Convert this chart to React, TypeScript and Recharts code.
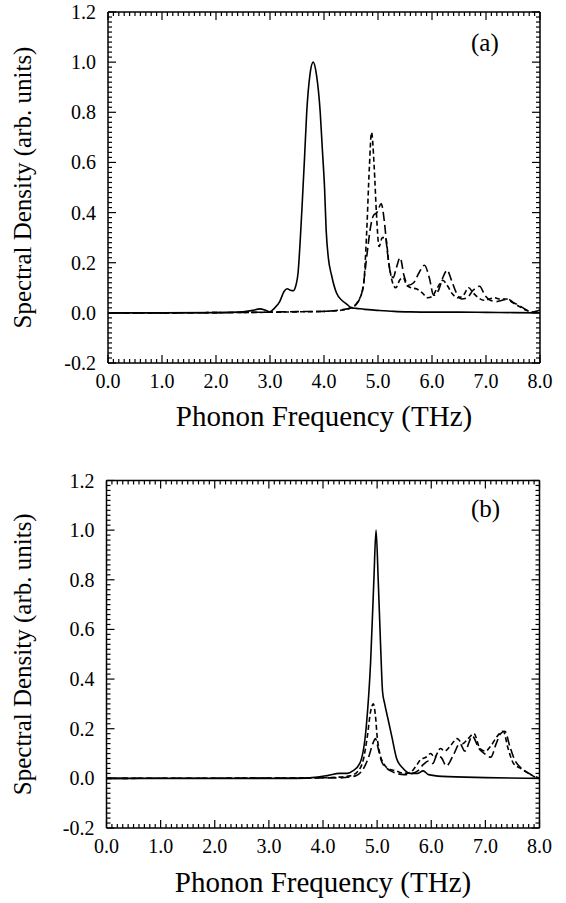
import React from 'react';
import { LineChart, Line, XAxis, YAxis } from 'recharts';

// ---------- tick labels ----------
const xMajorTicks = [0, 1, 2, 3, 4, 5, 6, 7, 8];
const xTickLabels = ['0.0', '1.0', '2.0', '3.0', '4.0', '5.0', '6.0', '7.0', '8.0'];
const yMajorTicks = [-0.2, 0, 0.2, 0.4, 0.6, 0.8, 1.0, 1.2];
const yTickLabels = ['-0.2', '0.0', '0.2', '0.4', '0.6', '0.8', '1.0', '1.2'];
const xMinorStep = 0.1;
const yMinorStep = 0.02;

// ---------- panel (a) ----------
const aSolid: [number, number][] = [
  [0, 0], [1, 0], [2, 0.001], [2.5, 0.004], [2.68, 0.01], [2.81, 0.016], [2.92, 0.01], [2.99, 0.004],
  [3.08, 0.018], [3.18, 0.045], [3.26, 0.085], [3.32, 0.096], [3.38, 0.09], [3.43, 0.088], [3.48, 0.11],
  [3.52, 0.16], [3.56, 0.29], [3.6, 0.45], [3.64, 0.62], [3.68, 0.8], [3.74, 0.95], [3.8, 1.0], [3.86, 0.95],
  [3.93, 0.8], [3.97, 0.65], [4.01, 0.5], [4.04, 0.33], [4.08, 0.22], [4.14, 0.15], [4.23, 0.08], [4.33, 0.05],
  [4.42, 0.035], [4.51, 0.02], [4.6, 0.018], [4.75, 0.014], [5.0, 0.01], [5.3, 0.006], [5.6, 0.004],
  [6.0, 0.003], [6.5, 0.003], [7.0, 0.002], [7.5, 0.001], [8, 0],
];
const aDashShort: [number, number][] = [
  [0, 0], [1, 0], [2, 0.001], [2.8, 0.002], [3.5, 0.004], [4.0, 0.006], [4.3, 0.01], [4.5, 0.02],
  [4.63, 0.046], [4.73, 0.106], [4.79, 0.32], [4.84, 0.58], [4.88, 0.72], [4.93, 0.58], [4.97, 0.4],
  [5.02, 0.265], [5.08, 0.3], [5.14, 0.3], [5.2, 0.2], [5.27, 0.12], [5.33, 0.1], [5.4, 0.13], [5.47, 0.14],
  [5.53, 0.11], [5.62, 0.1], [5.72, 0.095], [5.82, 0.08], [5.92, 0.06], [6.0, 0.065], [6.1, 0.1], [6.2, 0.13],
  [6.28, 0.11], [6.38, 0.075], [6.48, 0.06], [6.58, 0.07], [6.68, 0.1], [6.76, 0.08], [6.86, 0.06],
  [6.96, 0.05], [7.06, 0.055], [7.16, 0.06], [7.26, 0.055], [7.38, 0.055], [7.5, 0.04], [7.62, 0.025],
  [7.75, 0.01], [7.85, 0.003], [7.95, 0.008], [8, 0.01],
];
const aDashLong: [number, number][] = [
  [0, 0], [1, 0], [2, 0.001], [3, 0.003], [3.5, 0.005], [4.0, 0.006], [4.3, 0.012], [4.5, 0.02],
  [4.62, 0.04], [4.72, 0.1], [4.8, 0.24], [4.86, 0.34], [4.92, 0.39], [4.98, 0.4], [5.06, 0.435],
  [5.12, 0.36], [5.17, 0.25], [5.22, 0.17], [5.28, 0.14], [5.34, 0.18], [5.41, 0.22], [5.48, 0.15],
  [5.56, 0.11], [5.66, 0.12], [5.76, 0.16], [5.86, 0.19], [5.95, 0.14], [6.03, 0.07], [6.12, 0.09],
  [6.2, 0.14], [6.28, 0.17], [6.36, 0.13], [6.45, 0.08], [6.55, 0.055], [6.65, 0.06], [6.76, 0.09],
  [6.88, 0.106], [6.98, 0.07], [7.08, 0.05], [7.2, 0.045], [7.3, 0.05], [7.4, 0.055], [7.52, 0.04],
  [7.65, 0.025], [7.78, 0.008], [7.88, 0.002], [7.96, 0.008], [8, 0.012],
];

// ---------- panel (b) ----------
const bSolid: [number, number][] = [
  [0, 0], [3.5, 0], [3.9, 0.005], [4.1, 0.012], [4.3, 0.02], [4.45, 0.02], [4.55, 0.03], [4.68, 0.06],
  [4.8, 0.21], [4.88, 0.47], [4.94, 0.8], [4.98, 1.0], [5.02, 0.8], [5.07, 0.5], [5.1, 0.35], [5.14, 0.3],
  [5.2, 0.24], [5.27, 0.17], [5.36, 0.08], [5.48, 0.04], [5.62, 0.02], [5.75, 0.02], [5.85, 0.03],
  [5.95, 0.015], [6.2, 0.008], [7.0, 0.003], [8, 0],
];
const bDashShort: [number, number][] = [
  [0, 0], [3.8, 0.002], [4.3, 0.005], [4.5, 0.01], [4.65, 0.03], [4.75, 0.08], [4.82, 0.17], [4.88, 0.27],
  [4.93, 0.3], [4.97, 0.25], [5.0, 0.17], [5.05, 0.1], [5.12, 0.06], [5.2, 0.04], [5.35, 0.03], [5.5, 0.02],
  [5.62, 0.025], [5.72, 0.05], [5.8, 0.075], [5.9, 0.085], [5.99, 0.1], [6.06, 0.085], [6.17, 0.12],
  [6.25, 0.11], [6.35, 0.13], [6.48, 0.16], [6.58, 0.14], [6.68, 0.16], [6.79, 0.18], [6.9, 0.12],
  [7.0, 0.11], [7.1, 0.13], [7.22, 0.17], [7.33, 0.19], [7.42, 0.12], [7.52, 0.06], [7.65, 0.04],
  [7.8, 0.02], [7.92, 0.005], [8, 0],
];
const bDashLong: [number, number][] = [
  [0, 0], [4.3, 0.002], [4.6, 0.01], [4.75, 0.04], [4.85, 0.09], [4.92, 0.14], [4.97, 0.16], [5.02, 0.12],
  [5.08, 0.07], [5.18, 0.04], [5.3, 0.025], [5.5, 0.015], [5.65, 0.02], [5.75, 0.03], [5.85, 0.055],
  [5.95, 0.07], [6.03, 0.06], [6.1, 0.09], [6.18, 0.085], [6.28, 0.05], [6.4, 0.09], [6.53, 0.14],
  [6.62, 0.11], [6.76, 0.17], [6.88, 0.12], [6.98, 0.1], [7.1, 0.085], [7.2, 0.14], [7.28, 0.18],
  [7.36, 0.19], [7.45, 0.13], [7.53, 0.08], [7.7, 0.035], [7.85, 0.015], [7.95, 0.005], [8, 0],
];

// ---------- helpers ----------
const FONT = '"Liberation Serif", "Times New Roman", serif';
const MAJOR = 8;
const MINOR = 4;
const TICK_W = 1.2;

const xAllTicks = Array.from({ length: Math.round(8 / xMinorStep) + 1 }, (_, i) => Number((i * xMinorStep).toFixed(3)));
const yAllTicks = Array.from({ length: Math.round(1.4 / yMinorStep) + 1 }, (_, i) => Number((-0.2 + i * yMinorStep).toFixed(3)));

const isMajorX = (v: number) => Math.abs(v - Math.round(v)) < 1e-6;
const isMajorY = (v: number) => Math.abs(v * 5 - Math.round(v * 5)) < 1e-6;
const xLabel = (v: number) => xTickLabels[xMajorTicks.indexOf(Math.round(v))];
const yLabel = (v: number) => {
  const idx = yMajorTicks.findIndex((t) => Math.abs(t - v) < 1e-6);
  return idx >= 0 ? yTickLabels[idx] : '';
};

const toPts = (arr: [number, number][]) => arr.map(([x, y]) => ({ x, y }));

const BottomTick = (props: any) => {
  const { x, y, payload } = props;
  const v = payload.value;
  const major = isMajorX(v);
  return (
    <g>
      <line x1={x} x2={x} y1={y} y2={y - (major ? MAJOR : MINOR)} stroke="#000" strokeWidth={TICK_W} />
      {major && (
        <text x={x} y={y + 25} textAnchor="middle" fontSize={20} fontFamily={FONT} fill="#000">
          {xLabel(v)}
        </text>
      )}
    </g>
  );
};
const TopTick = (props: any) => {
  const { x, y, payload } = props;
  const major = isMajorX(payload.value);
  return <line x1={x} x2={x} y1={y} y2={y + (major ? MAJOR : MINOR)} stroke="#000" strokeWidth={TICK_W} />;
};
const LeftTick = (props: any) => {
  const { x, y, payload } = props;
  const v = payload.value;
  const major = isMajorY(v);
  return (
    <g>
      <line x1={x} x2={x + (major ? MAJOR : MINOR)} y1={y} y2={y} stroke="#000" strokeWidth={TICK_W} />
      {major && (
        <text x={x - 12} y={y} dy="0.35em" textAnchor="end" fontSize={20} fontFamily={FONT} fill="#000">
          {yLabel(v)}
        </text>
      )}
    </g>
  );
};
const RightTick = (props: any) => {
  const { x, y, payload } = props;
  const major = isMajorY(payload.value);
  return <line x1={x} x2={x - (major ? MAJOR : MINOR)} y1={y} y2={y} stroke="#000" strokeWidth={TICK_W} />;
};

type PanelProps = {
  height: number;
  marginTop: number;
  marginRight: number;
  leftWidth: number;
  bottomHeight: number;
  titleOffset: number;
  solid: [number, number][];
  dashShort: [number, number][];
  dashLong: [number, number][];
};

const axisLine = { stroke: '#000', strokeWidth: 1.5 };

const Panel = (p: PanelProps) => (
  <LineChart width={566} height={p.height} margin={{ top: p.marginTop, right: p.marginRight, bottom: 0, left: 0 }}>
    <XAxis
      xAxisId="b"
      dataKey="x"
      type="number"
      domain={[0, 8]}
      allowDataOverflow
      ticks={xAllTicks}
      interval={0}
      tickSize={0}
      tickMargin={0}
      tickLine={false}
      axisLine={axisLine}
      tick={<BottomTick />}
      height={p.bottomHeight}
      label={{
        value: 'Phonon Frequency (THz)',
        position: 'insideBottom',
        offset: p.titleOffset,
        style: { fontSize: 29, fontFamily: FONT, fill: '#000' },
      }}
    />
    <XAxis
      xAxisId="t"
      orientation="top"
      dataKey="x"
      type="number"
      domain={[0, 8]}
      allowDataOverflow
      ticks={xAllTicks}
      interval={0}
      tickSize={0}
      tickMargin={0}
      tickLine={false}
      axisLine={axisLine}
      tick={<TopTick />}
      height={1}
    />
    <YAxis
      yAxisId="l"
      type="number"
      domain={[-0.2, 1.2]}
      allowDataOverflow
      ticks={yAllTicks}
      interval={0}
      tickSize={0}
      tickMargin={0}
      tickLine={false}
      axisLine={axisLine}
      tick={<LeftTick />}
      width={p.leftWidth}
      label={{
        value: 'Spectral Density (arb. units)',
        angle: -90,
        position: 'insideLeft',
        offset: 22,
        style: { fontSize: 25, fontFamily: FONT, fill: '#000', textAnchor: 'middle' },
      }}
    />
    <YAxis
      yAxisId="r"
      orientation="right"
      type="number"
      domain={[-0.2, 1.2]}
      allowDataOverflow
      ticks={yAllTicks}
      interval={0}
      tickSize={0}
      tickMargin={0}
      tickLine={false}
      axisLine={axisLine}
      tick={<RightTick />}
      width={1}
    />
    <Line
      xAxisId="b"
      yAxisId="l"
      data={toPts(p.solid)}
      dataKey="y"
      type="monotone"
      stroke="#000"
      strokeWidth={1.6}
      dot={false}
      activeDot={false}
      isAnimationActive={false}
    />
    <Line
      xAxisId="b"
      yAxisId="l"
      data={toPts(p.dashShort)}
      dataKey="y"
      type="monotone"
      stroke="#000"
      strokeWidth={1.6}
      strokeDasharray="5 3"
      dot={false}
      activeDot={false}
      isAnimationActive={false}
    />
    <Line
      xAxisId="b"
      yAxisId="l"
      data={toPts(p.dashLong)}
      dataKey="y"
      type="monotone"
      stroke="#000"
      strokeWidth={1.6}
      strokeDasharray="9 4"
      dot={false}
      activeDot={false}
      isAnimationActive={false}
    />
  </LineChart>
);

const tagStyle: React.CSSProperties = {
  position: 'absolute',
  fontFamily: FONT,
  fontSize: 25,
  lineHeight: '25px',
  color: '#000',
};

export default function App() {
  return (
    <div style={{ position: 'absolute', left: 0, top: 0, width: 566, height: 903, background: '#fff', overflow: 'hidden' }}>
      <div style={{ position: 'absolute', left: 0, top: 0 }}>
        <Panel
          height={450}
          marginTop={11}
          marginRight={25}
          leftWidth={108}
          bottomHeight={87}
          titleOffset={24}
          solid={aSolid}
          dashShort={aDashShort}
          dashLong={aDashLong}
        />
      </div>
      <div style={{ position: 'absolute', left: 0, top: 450 }}>
        <Panel
          height={453}
          marginTop={29.5}
          marginRight={25.5}
          leftWidth={106.5}
          bottomHeight={75}
          titleOffset={11}
          solid={bSolid}
          dashShort={bDashShort}
          dashLong={bDashLong}
        />
      </div>
      <div style={{ ...tagStyle, left: 471, top: 30 }}>(a)</div>
      <div style={{ ...tagStyle, left: 471, top: 496 }}>(b)</div>
    </div>
  );
}
